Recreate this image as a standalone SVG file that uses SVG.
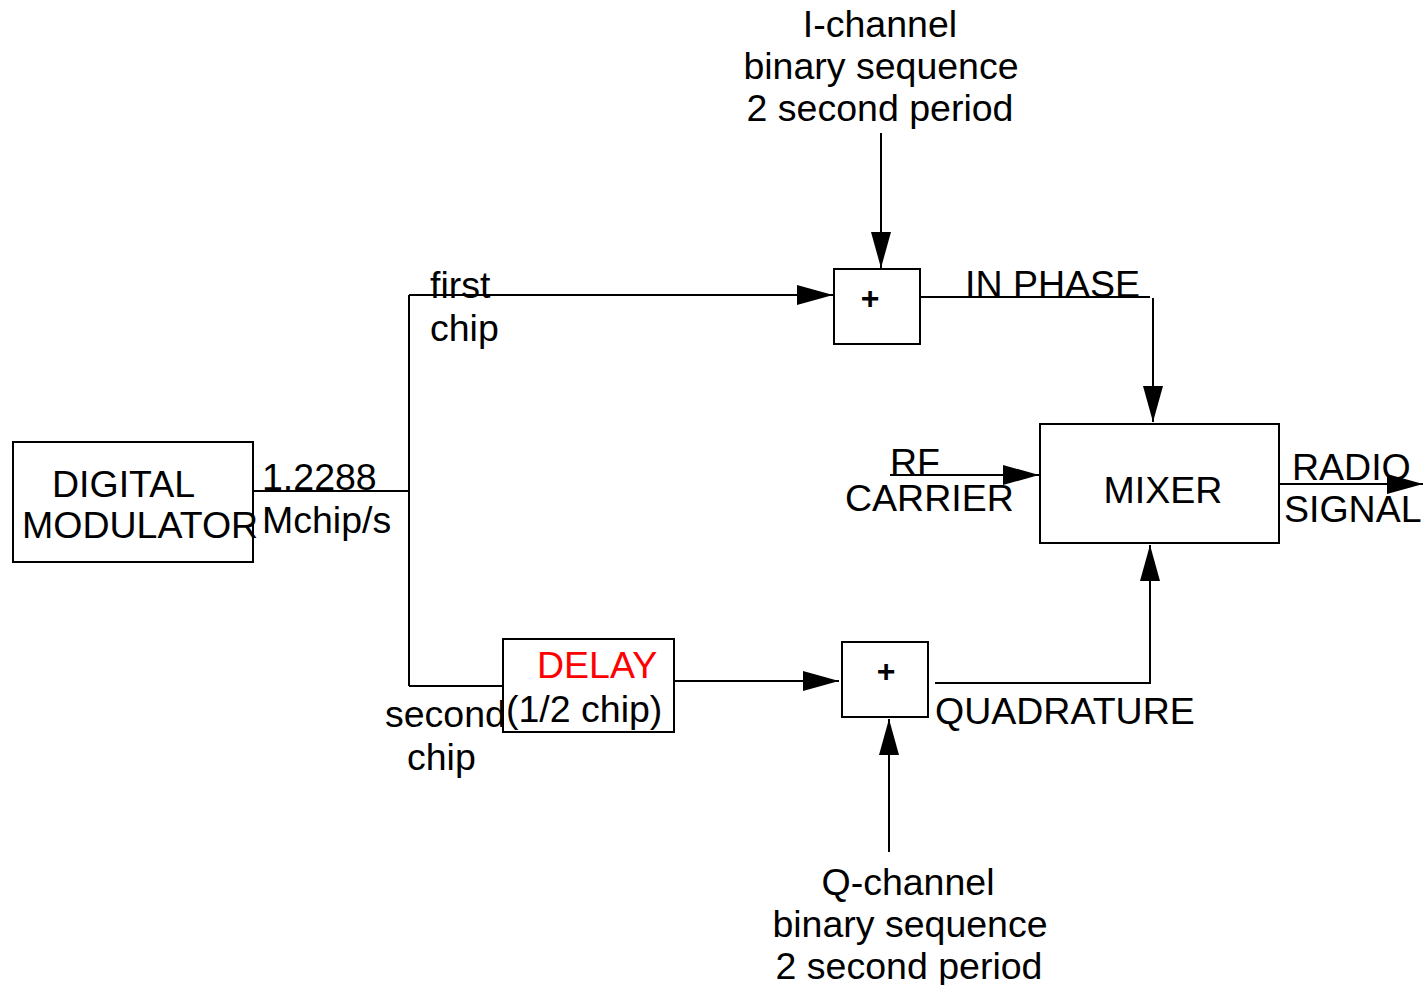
<svg xmlns="http://www.w3.org/2000/svg" width="1423" height="985" viewBox="0 0 1423 985">
<style>
text{font-family:"Liberation Sans",Arial,sans-serif;font-size:37.5px;fill:#000}
.box{fill:#fff;stroke:#000;stroke-width:2}
.ln{fill:none;stroke:#000;stroke-width:2}
.plus{font-weight:bold;font-size:32px}
.mid{text-anchor:middle}
</style>
<defs>
<marker id="ah" viewBox="0 0 36 22" refX="36" refY="11" markerWidth="36" markerHeight="22" markerUnits="userSpaceOnUse" orient="auto">
<path d="M0,1 L36,11 L0,21 Z" fill="#000"/>
</marker>
</defs>
<rect width="1423" height="985" fill="#fff"/>
<g id="connectors">
<path class="ln" d="M253,491 H409"/>
<path class="ln" d="M409,295 V686"/>
<path class="ln" d="M409,295 H833" marker-end="url(#ah)"/>
<path class="ln" d="M409,686 H503"/>
<path class="ln" d="M881,133 V268" marker-end="url(#ah)"/>
<path class="ln" d="M918,297 H1150"/>
<path class="ln" d="M1153,298 V422" marker-end="url(#ah)"/>
<path class="ln" d="M890,475 H1039" marker-end="url(#ah)"/>
<path class="ln" d="M1280,484 H1423" marker-end="url(#ah)"/>
<path class="ln" d="M674,681 H839" marker-end="url(#ah)"/>
<path class="ln" d="M889,852 V719" marker-end="url(#ah)"/>
<path class="ln" d="M935,683 H1150 V545" marker-end="url(#ah)"/>
</g>
<g id="modulator">
<rect class="box" x="13" y="442" width="240" height="120"/>
<text x="52" y="497">DIGITAL</text>
<text x="22" y="538">MODULATOR</text>
</g>
<g id="rate-label">
<text x="262" y="490">1.2288</text>
<text x="262" y="533">Mchip/s</text>
</g>
<g id="first-chip-label">
<text x="430" y="298">first</text>
<text x="430" y="341">chip</text>
</g>
<g id="second-chip-label">
<text x="385" y="727">second</text>
<text x="407" y="770">chip</text>
</g>
<g id="adder-i">
<rect class="box" x="834" y="269" width="86" height="75"/>
<text class="plus mid" x="870" y="309">+</text>
</g>
<g id="i-channel">
<text class="mid" x="880" y="37">I-channel</text>
<text class="mid" x="881" y="79">binary sequence</text>
<text class="mid" x="880" y="121">2 second period</text>
</g>
<g id="in-phase-label">
<text x="965" y="297">IN PHASE</text>
</g>
<g id="mixer">
<rect class="box" x="1040" y="424" width="239" height="119"/>
<text class="mid" x="1163" y="503">MIXER</text>
</g>
<g id="rf-carrier">
<text x="890" y="475">RF</text>
<text x="845" y="511">CARRIER</text>
</g>
<g id="radio-signal">
<text x="1292" y="480">RADIO</text>
<text x="1284" y="522">SIGNAL</text>
</g>
<g id="delay">
<rect class="box" x="503" y="639" width="171" height="93"/>
<text x="537" y="678" style="fill:#ff0000">DELAY</text>
<text x="506" y="722">(1/2 chip)</text>
</g>
<g id="adder-q">
<rect class="box" x="842" y="642" width="86" height="75"/>
<text class="plus mid" x="886" y="682">+</text>
</g>
<g id="quadrature-label">
<text x="935" y="724">QUADRATURE</text>
</g>
<g id="q-channel">
<text class="mid" x="908" y="895">Q-channel</text>
<text class="mid" x="910" y="937">binary sequence</text>
<text class="mid" x="909" y="979">2 second period</text>
</g>
</svg>
